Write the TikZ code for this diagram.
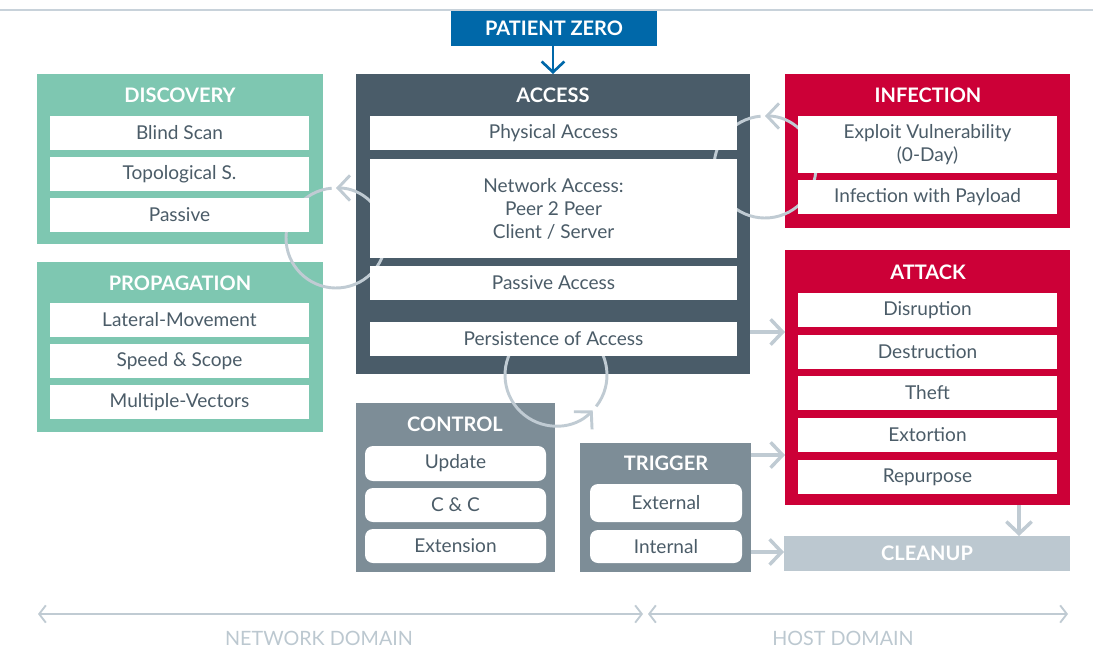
\documentclass[tikz,border=0pt]{standalone}
\usepackage{fontspec}
\setmainfont{Lato}
\usetikzlibrary{arrows.meta}
\definecolor{cTeal}{HTML}{7EC7B1}
\definecolor{cSlate}{HTML}{4A5C69}
\definecolor{cRed}{HTML}{CC0037}
\definecolor{cCtrl}{HTML}{7D8D97}
\definecolor{cClean}{HTML}{BCC8D0}
\definecolor{cBlue}{HTML}{0068A9}
\definecolor{cArrow}{HTML}{C0CBD3}
\definecolor{cText}{HTML}{4B5C68}
\definecolor{cLine}{HTML}{C8D2DA}
\newcommand\mybox[7]{%
  \pgfmathsetmacro\bw{(#4-#2)*0.75}%
  \pgfmathsetmacro\bh{(#5-#3)*0.75}%
  \node[#6, minimum width=\bw pt, minimum height=\bh pt, inner sep=0pt, outer sep=0pt] (#1) at ({(#2+#4)/2},{(#3+#5)/2}) {#7};}
\tikzset{
  cont/.style={rectangle, draw=none},
  item/.style={rectangle, fill=white, text=cText, font=\fontsize{14.3}{17.25}\selectfont, align=center},
  ritem/.style={item, rounded corners=6pt},
  ttl/.style={text=white, font=\bfseries\fontsize{15}{17}\selectfont, inner sep=0pt},
  garrow/.style={draw=cArrow, line width=2.6pt, -{Straight Barb[length=9pt,width=19pt]}},
  loop/.style={draw=cArrow, line width=2.2pt, -{Straight Barb[length=9pt,width=19pt]}},
  dom/.style={draw=cArrow, line width=1.4pt, {Straight Barb[length=5pt,width=13pt]}-{Straight Barb[length=5pt,width=13pt]}},
  domlbl/.style={text=cClean, font=\fontsize{14.8}{17}\selectfont, inner sep=0pt}
}
\begin{document}
\begin{tikzpicture}[x=0.75pt,y=-0.75pt]
\useasboundingbox (0,0) rectangle (1093,650);
% top rule
\coordinate (tl) at (0,10);
\coordinate (tr) at (1093,10);
\draw[cLine, line width=1.5pt] (tl) -- (tr);
% containers
\mybox{disc}{37}{74}{323}{244}{cont, fill=cTeal}{}
\mybox{prop}{37}{262}{323}{432}{cont, fill=cTeal}{}
\mybox{access}{356}{74}{750}{374}{cont, fill=cSlate}{}
\mybox{infect}{785}{74}{1070}{228}{cont, fill=cRed}{}
\mybox{attack}{785}{250}{1070}{505}{cont, fill=cRed}{}
\mybox{control}{356}{403}{555}{572}{cont, fill=cCtrl}{}
\mybox{trigger}{580}{443}{751}{572}{cont, fill=cCtrl}{}
\mybox{cleanup}{784}{536}{1070}{571}{cont, fill=cClean, text=white, font=\bfseries\fontsize{15}{17}\selectfont}{CLEANUP}
\mybox{pz}{451}{11}{657}{46}{cont, fill=cBlue, text=white, font=\bfseries\fontsize{15}{17}\selectfont}{PATIENT ZERO}
% loops (behind the items)
\coordinate (c1) at (336,238);
\coordinate (c2) at (765,167);
\coordinate (c3) at (556,375);
\draw[loop] ([shift={(265:50)}]c1) arc[start angle=265, end angle=-90, radius=50];
\draw[loop] ([shift={(265:51)}]c2) arc[start angle=265, end angle=-90, radius=51];
\draw[loop] ([shift={(38:51)}]c3) arc[start angle=38, end angle=-316, radius=51];
% items
\mybox{blind}{50}{116}{309}{150}{item}{Blind Scan}
\mybox{topo}{50}{157}{309}{191}{item}{Topological S.}
\mybox{passive}{50}{198}{309}{232}{item}{Passive}
\mybox{lateral}{50}{303}{309}{337}{item}{Lateral-Movement}
\mybox{speed}{50}{344}{309}{378}{item}{Speed \& Scope}
\mybox{multi}{50}{385}{309}{419}{item}{Multiple-Vectors}
\mybox{phys}{370}{116}{737}{150}{item}{Physical Access}
\mybox{netw}{370}{159}{737}{258}{item}{Network Access:\\Peer 2 Peer\\Client / Server}
\mybox{pasacc}{370}{266}{737}{300}{item}{Passive Access}
\mybox{persist}{370}{322}{737}{356}{item}{Persistence of Access}
\mybox{exploit}{798}{116}{1057}{173}{item}{Exploit Vulnerability\\(0-Day)}
\mybox{payload}{798}{180}{1057}{214}{item}{Infection with Payload}
\mybox{disr}{798}{293}{1057}{327}{item}{Disruption}
\mybox{destr}{798}{335}{1057}{369}{item}{Destruction}
\mybox{theft}{798}{376}{1057}{410}{item}{Theft}
\mybox{extort}{798}{418}{1057}{452}{item}{Extortion}
\mybox{repurp}{798}{460}{1057}{494}{item}{Repurpose}
\mybox{update}{365}{446}{546}{481}{ritem}{Update}
\mybox{cc}{365}{488}{546}{522}{ritem}{C \& C}
\mybox{ext}{365}{529}{546}{563}{ritem}{Extension}
\mybox{external}{590}{484}{742}{522}{ritem}{External}
\mybox{internal}{590}{530}{742}{563}{ritem}{Internal}
% titles
\node[ttl] (discT) at (180,95) {DISCOVERY};
\node[ttl] (propT) at (180,283) {PROPAGATION};
\node[ttl] (accT) at (553,95) {ACCESS};
\node[ttl] (infT) at (928,95) {INFECTION};
\node[ttl] (attT) at (928,272) {ATTACK};
\node[ttl] (ctlT) at (455,424) {CONTROL};
\node[ttl] (trgT) at (666,463) {TRIGGER};
% connectors
\coordinate (yA) at (0,332);
\coordinate (yB) at (0,455);
\coordinate (yC) at (0,552);
\coordinate (xD) at (1019,0);
\coordinate (xP) at (553,0);
\draw[draw=cBlue, line width=2pt, -{Straight Barb[length=8pt,width=17pt]}] (pz.south -| xP) -- (access.north -| xP);
\draw[garrow] (access.east |- yA) -- (attack.west |- yA);
\draw[garrow] (trigger.east |- yB) -- (attack.west |- yB);
\draw[garrow] (trigger.east |- yC) -- (cleanup.west |- yC);
\draw[garrow] (attack.south -| xD) -- (cleanup.north -| xD);
% domains
\coordinate (d1) at (38,614);
\coordinate (d2) at (643,614);
\coordinate (d3) at (648,614);
\coordinate (d4) at (1068,614);
\draw[dom] (d1) -- (d2);
\draw[dom] (d3) -- (d4);
\node[domlbl] (netdom) at (319,638) {NETWORK DOMAIN};
\node[domlbl] (hostdom) at (843,638) {HOST DOMAIN};
\end{tikzpicture}
\end{document}
